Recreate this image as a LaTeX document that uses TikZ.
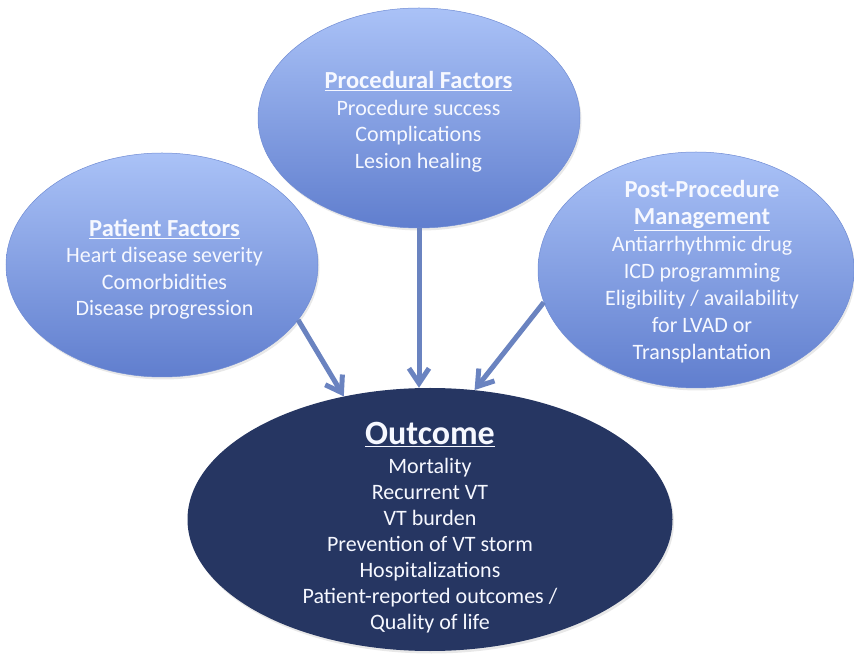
\documentclass[tikz,border=0pt]{standalone}
\usepackage{fontspec}
\setmainfont{Carlito}
\usetikzlibrary{shapes.geometric,arrows.meta,shadows}
\definecolor{bubtop}{RGB}{170,194,247}
\definecolor{bubbot}{RGB}{96,126,206}
\definecolor{bubedge}{RGB}{112,140,212}
\definecolor{outfill}{RGB}{38,54,98}
\definecolor{arrcol}{RGB}{106,131,192}
\definecolor{txtwhite}{RGB}{246,248,255}
\newcommand{\headfont}{\fontsize{24.5}{26.5}\selectfont\bfseries}
\begin{document}
\begin{tikzpicture}[x=1pt,y=1pt,
  bubble/.style={ellipse, inner sep=0pt, top color=bubtop, bottom color=bubbot,
    draw=bubedge, line width=0.5pt,
    drop shadow={opacity=0.18, shadow xshift=1.5pt, shadow yshift=-2.5pt}},
  outbubble/.style={ellipse, inner sep=0pt, fill=outfill,
    drop shadow={opacity=0.18, shadow xshift=1.5pt, shadow yshift=-2.5pt}},
  bodytext/.style={text=txtwhite, align=center, inner sep=0pt,
    font=\fontsize{22}{26.5}\selectfont},
  headtext/.style={text=txtwhite, align=center, inner sep=0pt,
    font=\fontsize{34}{38}\selectfont\bfseries},
  arr/.style={draw=arrcol, line width=5pt, -{Straight Barb[length=15pt,width=20pt]}}
]
\useasboundingbox (0,0) rectangle (854,659);

% ellipses
\node[bubble, minimum width=322pt, minimum height=220pt] (proc) at (419,541) {};
\node[bubble, minimum width=312pt, minimum height=224pt] (pat) at (162,394) {};
\node[bubble, minimum width=316pt, minimum height=236pt] (post) at (696,389) {};
\node[outbubble, minimum width=485pt, minimum height=263pt] (out) at (430,139.5) {};

% texts
\node[bodytext] (proctxt) at (418.5,537) {{\headfont\underline{Procedural Factors}}\\Procedure success\\Complications\\Lesion healing};
\node[bodytext] (pattxt) at (164.5,389.5) {{\headfont\underline{Patient Factors}}\\Heart disease severity\\Comorbidities\\Disease progression};
\node[bodytext, font=\fontsize{22}{27}\selectfont] (posttxt) at (702,387) {{\headfont Post-Procedure}\\{\headfont\underline{Management}}\\Antiarrhythmic drug\\ICD programming\\Eligibility / availability\\for LVAD or\\Transplantation};
\node[headtext] (outhead) at (430,224.5) {\underline{Outcome}};
\node[bodytext, font=\fontsize{22}{26}\selectfont] (outtxt) at (430,113.5) {Mortality\\Recurrent VT\\VT burden\\Prevention of VT storm\\Hospitalizations\\Patient-reported outcomes /\\Quality of life};

% arrows
\draw[arr] (pat.-22) -- (out.125);
\draw[arr] (proc.south) -- (proc.south |- out.north);
\draw[arr] (post.192) -- (out.71);
\end{tikzpicture}
\end{document}
